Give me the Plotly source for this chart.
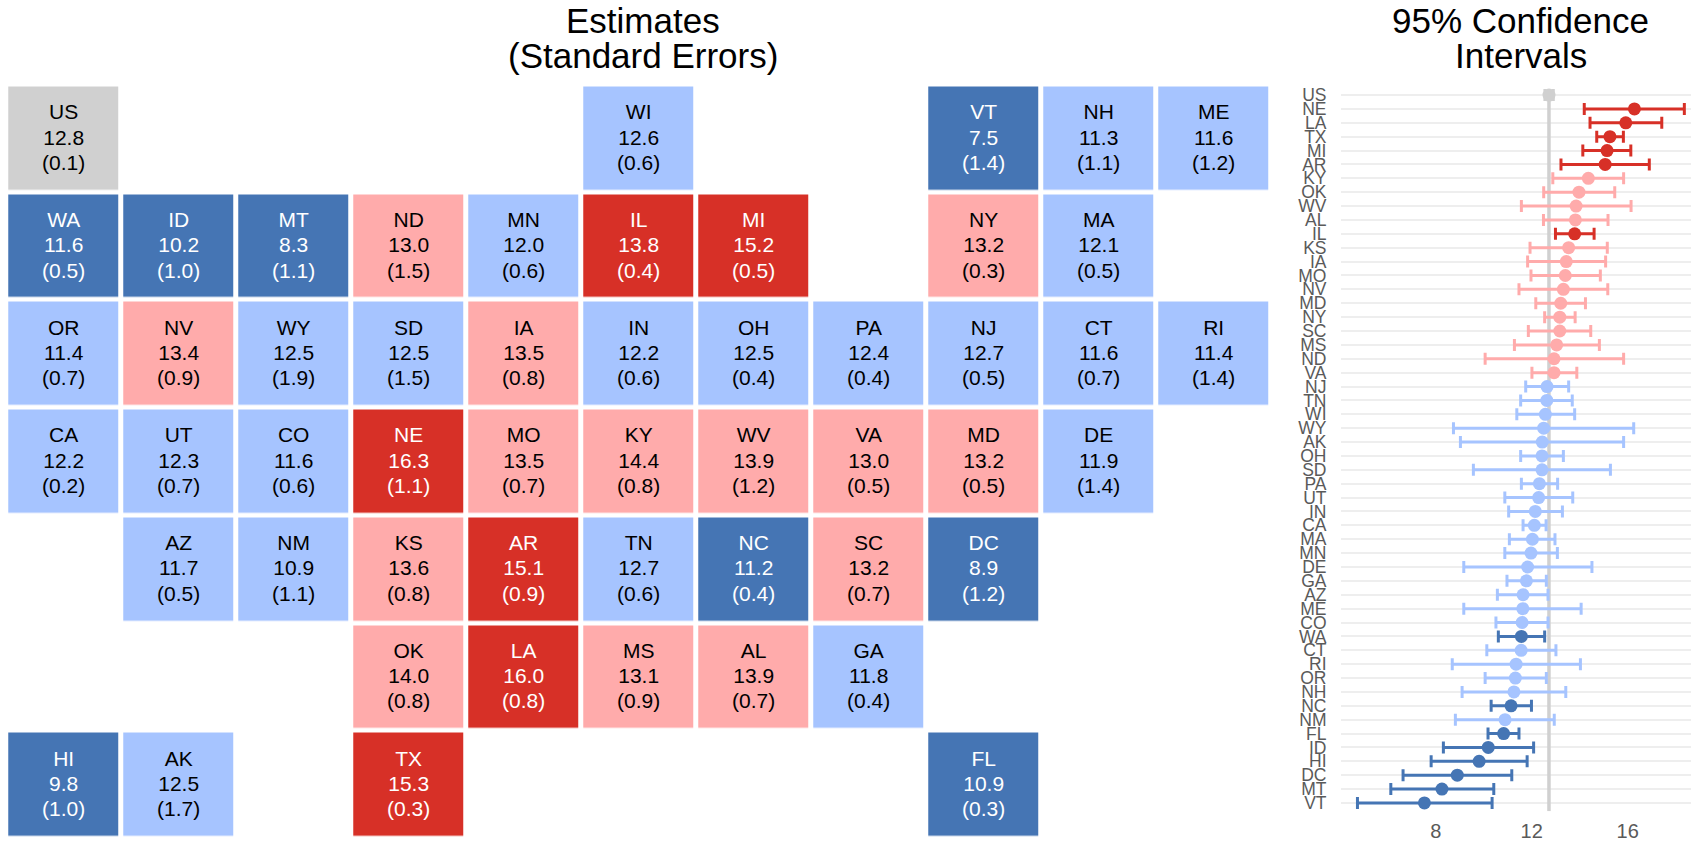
import numpy as np
import plotly.graph_objects as go

# ---- tile grid data ----
tile_state = ["US","WI","VT","NH","ME",
              "WA","ID","MT","ND","MN","IL","MI","NY","MA",
              "OR","NV","WY","SD","IA","IN","OH","PA","NJ","CT","RI",
              "CA","UT","CO","NE","MO","KY","WV","VA","MD","DE",
              "AZ","NM","KS","AR","TN","NC","SC","DC",
              "OK","LA","MS","AL","GA",
              "HI","AK","TX","FL"]
tile_col = [0,5,8,9,10,
            0,1,2,3,4,5,6,8,9,
            0,1,2,3,4,5,6,7,8,9,10,
            0,1,2,3,4,5,6,7,8,9,
            1,2,3,4,5,6,7,8,
            3,4,5,6,7,
            0,1,3,8]
tile_row = [0]*5 + [1]*9 + [2]*11 + [3]*10 + [4]*8 + [5]*5 + [6]*4
tile_est = ["12.8","12.6","7.5","11.3","11.6",
            "11.6","10.2","8.3","13.0","12.0","13.8","15.2","13.2","12.1",
            "11.4","13.4","12.5","12.5","13.5","12.2","12.5","12.4","12.7","11.6","11.4",
            "12.2","12.3","11.6","16.3","13.5","14.4","13.9","13.0","13.2","11.9",
            "11.7","10.9","13.6","15.1","12.7","11.2","13.2","8.9",
            "14.0","16.0","13.1","13.9","11.8",
            "9.8","12.5","15.3","10.9"]
tile_se = ["0.1","0.6","1.4","1.1","1.2",
           "0.5","1.0","1.1","1.5","0.6","0.4","0.5","0.3","0.5",
           "0.7","0.9","1.9","1.5","0.8","0.6","0.4","0.4","0.5","0.7","1.4",
           "0.2","0.7","0.6","1.1","0.7","0.8","1.2","0.5","0.5","1.4",
           "0.5","1.1","0.8","0.9","0.6","0.4","0.7","1.2",
           "0.8","0.8","0.9","0.7","0.4",
           "1.0","1.7","0.3","0.3"]

dark_blue = ["VT","WA","ID","MT","NC","DC","HI","FL"]
dark_red = ["IL","MI","NE","AR","LA","TX"]
pink = ["ND","NY","NV","IA","MO","KY","WV","VA","MD","KS","SC","OK","MS","AL"]

# ---- confidence interval data (top to bottom) ----
ci_state = ["US","NE","LA","TX","MI","AR","KY","OK","WV","AL","IL","KS","IA","MO","NV","MD","NY","SC","MS","ND","VA",
            "NJ","TN","WI","WY","AK","OH","SD","PA","UT","IN","CA","MA","MN","DE","GA","AZ","ME","CO","WA","CT","RI",
            "OR","NH","NC","NM","FL","ID","HI","DC","MT","VT"]
ci_low = [12.55,14.19,14.43,14.71,14.13,13.22,12.88,12.5,11.57,12.49,12.99,11.93,11.83,11.97,11.47,12.17,12.54,11.86,11.28,10.06,12.01,
          11.75,11.54,11.38,8.74,9.03,11.54,9.57,11.57,10.88,11.04,11.64,11.07,10.88,9.17,10.97,10.57,9.17,10.51,10.61,10.13,8.69,
          10.06,9.1,10.31,8.82,10.18,8.32,7.81,6.64,6.13,4.74]
ci_mid = [12.72,16.28,15.92,15.26,15.14,15.06,14.36,13.97,13.85,13.82,13.79,13.54,13.44,13.40,13.32,13.21,13.17,13.17,13.04,12.93,12.93,
          12.64,12.63,12.57,12.5,12.44,12.43,12.43,12.32,12.29,12.15,12.11,12.03,11.97,11.83,11.78,11.64,11.63,11.6,11.57,11.56,11.35,
          11.32,11.26,11.14,10.89,10.83,10.19,9.81,8.9,8.26,7.53]
ci_high = [12.9,18.36,17.42,15.82,16.13,16.90,15.83,15.46,16.14,15.18,14.60,15.15,15.08,14.86,15.17,14.24,13.81,14.46,14.82,15.83,13.88,
           13.54,13.69,13.79,16.25,15.83,13.32,15.28,13.08,13.71,13.28,12.6,12.97,13.07,14.51,12.61,12.68,14.06,12.68,12.54,13.01,14.03,
           12.61,13.42,11.99,12.94,11.47,12.08,11.81,11.17,10.42,10.35]

x_ticks = [8, 12, 16]

# ---- styles ----
BLUE_D, BLUE_L, PINK, RED, GREY = "#4575B4", "#A6C4FF", "#FFABAB", "#D73027", "#D0D0D0"
FONT = "Liberation Sans"

def tier(s):
    if s == "US":
        return 2
    if s in dark_blue:
        return 0
    if s in dark_red:
        return 4
    if s in pink:
        return 3
    return 1

tier_color = {0: BLUE_D, 1: BLUE_L, 2: GREY, 3: PINK, 4: RED}

# Tile matrix
z = [[None]*11 for _ in range(7)]
for s, c, r in zip(tile_state, tile_col, tile_row):
    z[r][c] = tier(s)

fig = go.Figure()
scale = []
for i in range(5):
    scale += [[i/5, tier_color[i]], [(i+1)/5, tier_color[i]]]
fig.add_trace(go.Heatmap(z=z, x=list(range(11)), y=list(range(7)), xaxis="x", yaxis="y",
                         colorscale=scale, zmin=-0.5, zmax=4.5, showscale=False,
                         xgap=5, ygap=4.7, hoverinfo="skip"))

txt_color = ["white" if tier(s) in (0, 4) else "black" for s in tile_state]
lines = [(-0.225, tile_state), (0.01, tile_est), (0.245, ["(%s)" % v for v in tile_se])]
for off, labels in lines:
    fig.add_trace(go.Scatter(x=tile_col, y=[r + off for r in tile_row], text=labels, mode="text",
                             textposition="middle center",
                             textfont=dict(family=FONT, size=21, color=txt_color),
                             xaxis="x", yaxis="y", hoverinfo="skip", showlegend=False))

# Reference line for the US estimate
n = len(ci_state)
fig.add_trace(go.Scatter(x=[ci_mid[0], ci_mid[0]], y=[0, n - 1 + 0.6], mode="lines",
                         line=dict(color=GREY, width=3.5), xaxis="x2", yaxis="y2",
                         hoverinfo="skip", showlegend=False))

low, mid, high = map(np.array, (ci_low, ci_mid, ci_high))
tiers = np.array([tier(s) for s in ci_state])
ypos = np.arange(n)
for t in range(5):
    m = tiers == t
    fig.add_trace(go.Scatter(x=mid[m], y=ypos[m], mode="markers",
                             marker=dict(color=tier_color[t], size=13, line=dict(width=0)),
                             error_x=dict(type="data", symmetric=False, array=(high - mid)[m],
                                          arrayminus=(mid - low)[m], color=tier_color[t],
                                          thickness=3, width=6),
                             xaxis="x2", yaxis="y2", showlegend=False, hoverinfo="skip"))

W, H = 1691, 841
def px_x(a, b): return [a / W, b / W]
def px_y(top, bottom): return [1 - bottom / H, 1 - top / H]
x2_left, x2_right = 1341, 1691
to_val = lambda p: 8 + (p - 1435.7) / 24

annots = []
for txt, cx, cy in [("Estimates", 643, 21), ("(Standard Errors)", 643, 55.5),
                    ("95% Confidence", 1520.7, 21), ("Intervals", 1520.7, 55.5)]:
    annots.append(dict(text=txt, x=cx / W, y=1 - cy / H, xref="paper", yref="paper",
                       showarrow=False, xanchor="center", yanchor="middle",
                       font=dict(family=FONT, size=35, color="black")))

fig.update_layout(
    width=W, height=H,
    margin=dict(l=0, r=0, t=0, b=0), paper_bgcolor="white", plot_bgcolor="white",
    showlegend=False, annotations=annots,
    xaxis=dict(domain=px_x(6.2, 1271.2), range=[-0.5, 10.5], visible=False, automargin=False),
    yaxis=dict(domain=px_y(84.5, 838.4), range=[6.5, -0.5], visible=False, automargin=False),
    xaxis2=dict(domain=px_x(x2_left, x2_right), range=[to_val(x2_left), to_val(x2_right)],
                anchor="y2", tickmode="array", tickvals=x_ticks, showgrid=False, zeroline=False,
                automargin=False, ticks="outside", ticklen=2, tickcolor="rgba(0,0,0,0)",
                tickfont=dict(family=FONT, size=20, color="#5A5A5A")),
    yaxis2=dict(domain=px_y(86.7, 811.3), range=[n - 1 + 0.6, -0.6], anchor="x2",
                tickmode="array", tickvals=list(range(n)), ticktext=ci_state,
                showgrid=True, gridcolor="#EEEEEE", gridwidth=2, zeroline=False, automargin=False,
                ticks="outside", ticklen=10, tickcolor="rgba(0,0,0,0)",
                tickfont=dict(family=FONT, size=17.5, color="#5A5A5A")),
)
fig.write_html("out.html", config={"displayModeBar": False},
               post_script="document.body.style.margin='0';document.documentElement.style.overflow='hidden';")
